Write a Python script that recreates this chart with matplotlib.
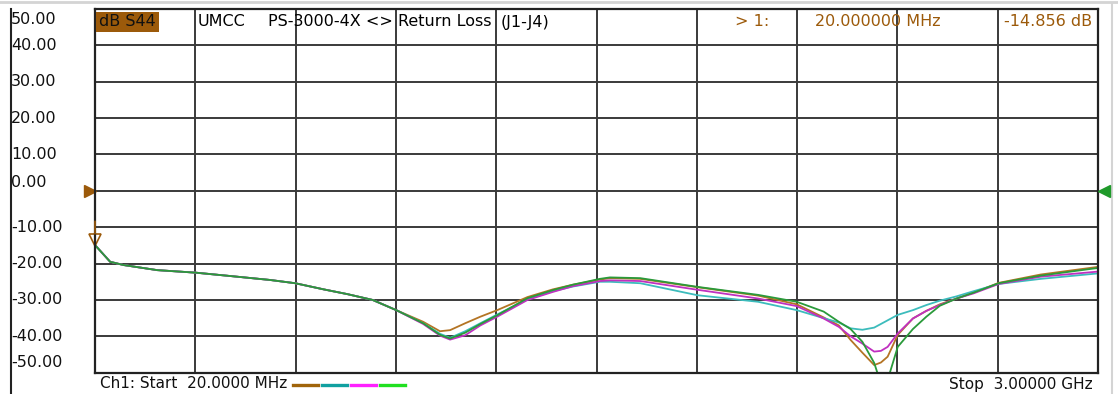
import matplotlib
matplotlib.use("Agg")
import numpy as np
import matplotlib.pyplot as plt
from matplotlib.lines import Line2D
from matplotlib.transforms import blended_transform_factory, offset_copy

# -------------------------
# Data
# -------------------------
start_mhz = 20.0
stop_mhz = 3000.0
y_ticks = [50, 40, 30, 20, 10, 0, -10, -20, -30, -40, -50]

freq_mhz = [20, 65, 105, 205, 320, 420, 540, 615, 700, 770, 845, 915,
            995, 1045, 1075, 1120, 1165, 1215, 1305, 1380, 1440, 1520, 1550,
            1640, 1810, 1990, 2105, 2185, 2230, 2265, 2300, 2335, 2355, 2375,
            2405, 2450, 2490, 2530, 2580, 2630, 2705, 2830, 3000]

low_band = [-14.9, -19.5, -20.4, -21.8, -22.5, -23.4, -24.5, -25.4, -27.1,
            -28.4, -30.0, -32.8]

trace_brown = low_band + [
    -36.0, -38.6, -38.3, -36.4, -34.6, -32.8, -29.2, -27.1, -25.8, -24.4,
    -24.0, -24.2, -26.5, -28.8, -31.2, -34.8, -37.0, -41.0, -44.5, -47.9,
    -47.2, -45.6, -39.6, -35.1, -33.0, -31.2, -29.6, -28.0, -25.3, -23.0,
    -20.9]
trace_teal = low_band + [
    -36.4, -39.3, -40.4, -38.6, -36.4, -34.0, -29.8, -27.6, -26.3, -25.0,
    -25.0, -25.4, -28.7, -30.5, -32.8, -35.0, -36.2, -37.8, -38.2, -37.6,
    -36.6, -35.6, -34.1, -32.8, -31.4, -30.2, -29.0, -27.6, -25.6, -24.2,
    -22.7]
trace_magenta = low_band + [
    -36.6, -39.8, -40.9, -39.7, -37.0, -34.6, -30.0, -27.8, -26.2, -24.8,
    -24.6, -24.8, -27.2, -29.6, -31.7, -35.1, -37.4, -40.0, -42.0, -44.2,
    -44.0, -42.9, -39.2, -35.1, -33.0, -31.4, -29.6, -28.2, -25.6, -23.6,
    -22.2]
trace_green = low_band + [
    -36.4, -39.6, -40.6, -39.0, -36.6, -34.2, -29.5, -27.3, -25.8, -24.2,
    -23.8, -24.0, -26.4, -28.6, -30.5, -33.2, -36.0, -38.0, -41.5, -47.3,
    -53.0, -52.0, -42.9, -38.0, -34.6, -31.6, -29.6, -28.0, -25.4, -23.3,
    -21.2]

marker_freq = 20.0
marker_db = -14.856
ref_level = 0.0

# -------------------------
# Figure / axes
# -------------------------
W, H = 1118, 394
plt.rcParams["font.family"] = ["DejaVu Sans"]
fs = 11.5

fig = plt.figure(figsize=(W / 100, H / 100), dpi=100)
fig.patch.set_facecolor("white")


def px(x):
    return x / W


def py(y):
    return 1 - y / H


ax = fig.add_axes([px(95), py(372.7), 1003 / W, 363.7 / H])
ax.set_xlim(start_mhz, stop_mhz)
ax.set_ylim(-50, 50)
ax.set_xticks(np.linspace(start_mhz, stop_mhz, 11))
ax.set_yticks(y_ticks)
ax.tick_params(length=0, labelbottom=False, labelleft=False)
ax.grid(True, color="#3a3a3a", linewidth=1.4)
ax.set_axisbelow(True)
for sp in ax.spines.values():
    sp.set_linewidth(1.6)
    sp.set_color("#222222")

brown = "#9c5a0a"
traces = [
    (trace_brown, "#b47424", "#a0640a"),
    (trace_teal, "#3cbcbc", "#10a0a0"),
    (trace_magenta, "#c030c0", "#ff20ff"),
    (trace_green, "#2a9a3a", "#20e020"),
]
for values, color, _ in traces:
    ax.plot(freq_mhz, values, color=color, linewidth=1.3)

# reference level arrows
ax.plot([start_mhz], [ref_level], marker=">", markersize=8, color=brown,
        clip_on=False,
        transform=offset_copy(ax.transData, fig, x=-5.5, y=0, units="dots"))
ax.plot([stop_mhz], [ref_level], marker="<", markersize=8, color="#1f9a2a",
        clip_on=False, zorder=5,
        transform=offset_copy(ax.transData, fig, x=6, y=0, units="dots"))

# marker 1
ax.plot([marker_freq], [marker_db], marker="v", markersize=8,
        markerfacecolor="none", markeredgecolor=brown, markeredgewidth=1.2,
        clip_on=False,
        transform=offset_copy(ax.transData, fig, x=0, y=5, units="dots"))
ax.annotate("", xy=(marker_freq, marker_db), xytext=(0, 17),
            textcoords="offset points", annotation_clip=False,
            arrowprops=dict(arrowstyle="-", color=brown, lw=1.2,
                            shrinkA=0, shrinkB=8))

# -------------------------
# Y labels (left strip)
# -------------------------
nudge = {50: -11, 0: 8, -50: 10}
label_tf = blended_transform_factory(fig.transFigure, ax.transData)
for v in y_ticks:
    tf = offset_copy(label_tf, fig, x=0, y=nudge.get(v, 0), units="dots")
    ax.text(px(11), v, f"{v:.2f}", transform=tf, ha="left", va="center",
            fontsize=fs, color="#111111", clip_on=False)

fig.add_artist(Line2D([px(11), px(11)], [0, py(9)], color="#222222",
                      linewidth=1.5))
fig.add_artist(Line2D([0, 1], [py(2), py(2)], color="#d4d4d4", linewidth=2))
fig.add_artist(Line2D([px(1112), px(1112)], [0, py(4)], color="#d4d4d4",
                      linewidth=1.5, zorder=0))

# -------------------------
# Header / footer text
# -------------------------
hy = py(22)
fig.text(px(99), hy, "dB S44", ha="left", va="center", fontsize=fs,
         color="#111111",
         bbox=dict(boxstyle="square,pad=0.18", fc=brown, ec="none"))
fig.text(px(198), hy, "UMCC", ha="left", va="center", fontsize=fs)
fig.text(px(268), hy, "PS-3000-4X <>", ha="left", va="center", fontsize=fs)
fig.text(px(398), hy, "Return Loss", ha="left", va="center", fontsize=fs)
fig.text(px(501), hy, "(J1-J4)", ha="left", va="center", fontsize=fs)
fig.text(px(735), hy, "> 1:", ha="left", va="center", fontsize=fs,
         color=brown)
fig.text(px(815), hy, f"{marker_freq:.6f} MHz", ha="left", va="center",
         fontsize=fs, color=brown)
fig.text(px(1092), hy, f"{marker_db:.3f} dB", ha="right", va="center",
         fontsize=fs, color=brown)

fy = py(384)
fig.text(px(100), fy, f"Ch1: Start  {start_mhz:.4f} MHz", ha="left",
         va="center", fontsize=11, color="#111111")
fig.text(px(1093), fy, f"Stop  {stop_mhz / 1000:.5f} GHz", ha="right",
         va="center", fontsize=11, color="#111111")

sw_x = 293
for _, _, sw_color in traces:
    fig.add_artist(Line2D([px(sw_x), px(sw_x + 25)], [py(385), py(385)],
                          color=sw_color, linewidth=2.4))
    sw_x += 29

fig.savefig("out.png", dpi=100)
